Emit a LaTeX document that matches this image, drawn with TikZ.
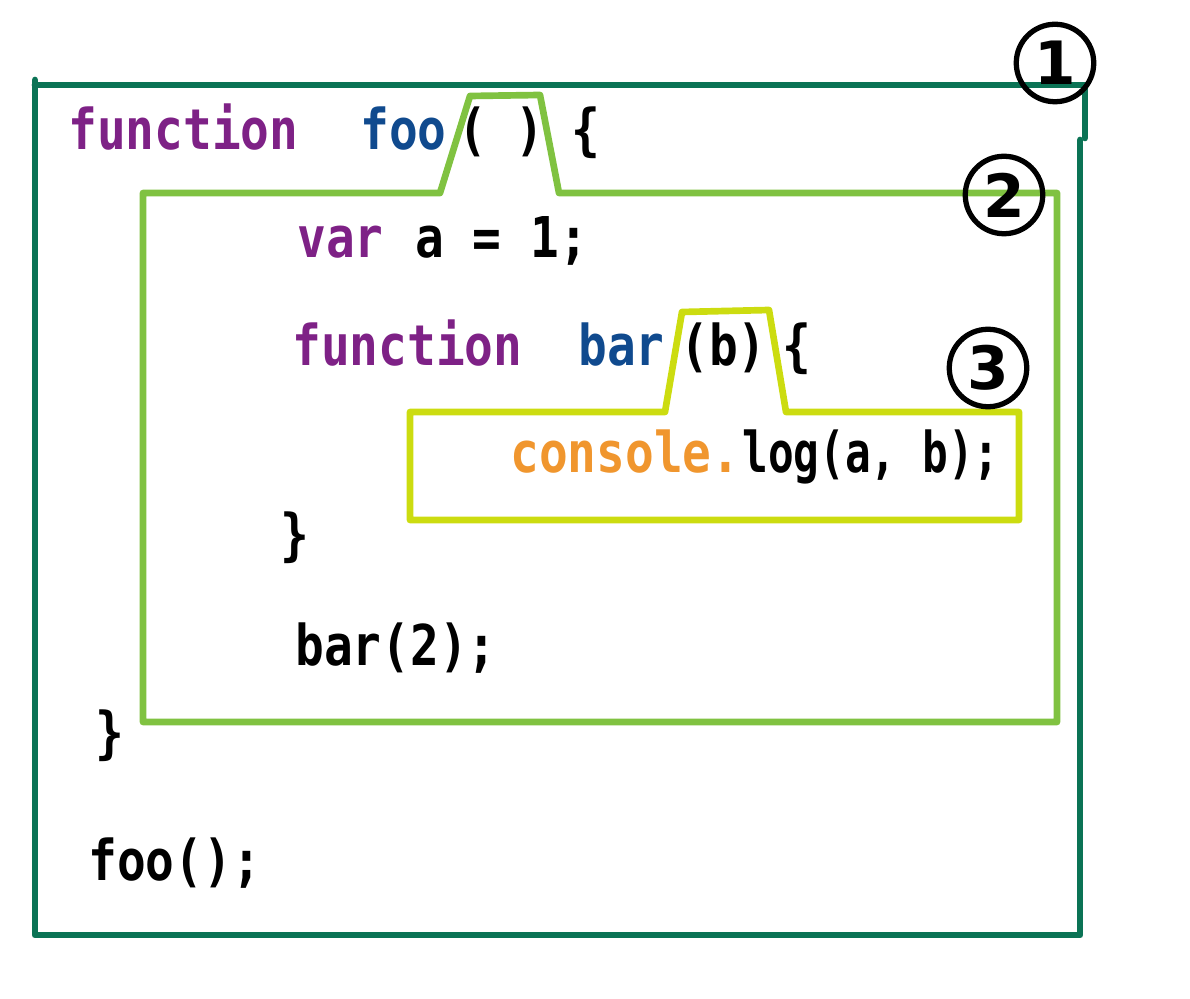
\documentclass[tikz,border=0pt]{standalone}
\usepackage{fontspec}
\newfontfamily\codefont[FakeStretch=0.85]{DejaVu Sans Mono}
\newfontfamily\narrowfont[FakeStretch=0.76]{DejaVu Sans Mono}
\newfontfamily\numfont{DejaVu Sans}

\definecolor{scopeone}{RGB}{11,115,85}
\definecolor{scopetwo}{RGB}{128,194,65}
\definecolor{scopethree}{RGB}{204,220,16}
\definecolor{kwpurple}{RGB}{126,33,134}
\definecolor{idblue}{RGB}{16,74,142}
\definecolor{logorange}{RGB}{240,150,46}

\tikzset{
    code/.style={font=\codefont\bfseries\fontsize{32}{34}\selectfont, anchor=base west, inner sep=0pt},
    narrowcode/.style={code, font=\narrowfont\bfseries\fontsize{32}{34}\selectfont},
    scopenum/.style={draw, circle, line width=3pt, minimum size=1.55cm, inner sep=0pt,
        font=\numfont\bfseries\fontsize{34}{36}\selectfont},
    scopeline/.style={line width=3.8pt, line join=round, line cap=round}
}

\begin{document}
\begin{tikzpicture}[x=0.02cm, y=-0.02cm]

    \useasboundingbox (0, 0) rectangle (1190, 999);

    % scope 1 (global)
    \draw[scopeline, scopeone] (35, 80) -- (35, 935) -- (1080, 935) -- (1080, 140);
    \draw[scopeline, scopeone] (35, 85) -- (1085, 85) -- (1085, 138);

    % scope 2 (foo)
    \draw[scopeline, scopetwo] (143, 193) -- (440, 193) -- (470, 96) -- (540, 95)
        -- (559, 193) -- (1057, 193) -- (1057, 722) -- (143, 722) -- cycle;

    % scope 3 (bar)
    \draw[scopeline, scopethree] (410, 412) -- (665, 412) -- (682, 312) -- (769, 310)
        -- (786, 412) -- (1019, 412) -- (1019, 520) -- (410, 520) -- cycle;

    % scope numbers
    \node[scopenum] (one) at (1055, 63) {1};
    \node[scopenum] (two) at (1004, 195) {2};
    \node[scopenum] (three) at (988, 368) {3};

    % line 1
    \node[code, kwpurple] (fnfoo) at (68, 150) {function};
    \node[code, idblue] (foo) at (360, 150) {foo};
    \node[code] (fooparen) at (458, 150) {( )};
    \node[code] (fooopen) at (571, 150) {\{};

    % line 2
    \node[code, kwpurple] (var) at (297, 258) {var};
    \node[code] (vara) at (415, 258) {a = 1;};

    % line 3
    \node[code, kwpurple] (fnbar) at (292, 366) {function};
    \node[code, idblue] (bar) at (578, 366) {bar};
    \node[code] (barparen) at (680, 366) {(b)};
    \node[code] (baropen) at (782, 366) {\{};

    % line 4
    \node[code, logorange] (console) at (510, 473) {console.};
    \node[narrowcode] (log) at (742, 473) {log(a, b);};

    % line 5 to 8
    \node[code] (barclose) at (280, 555) {\}};
    \node[code] (barcall) at (295, 665) {bar(2);};
    \node[code] (fooclose) at (95, 752) {\}};
    \node[code] (foocall) at (88, 880) {foo();};

\end{tikzpicture}
\end{document}
